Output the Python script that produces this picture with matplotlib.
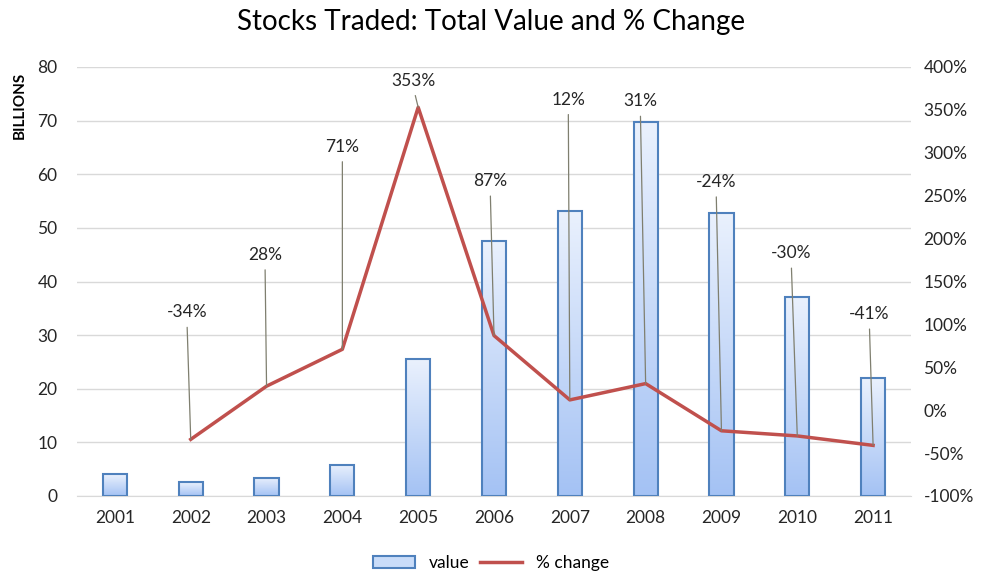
import numpy as np
import matplotlib.pyplot as plt
from matplotlib.lines import Line2D
from matplotlib.patches import Patch
from matplotlib.colors import LinearSegmentedColormap

years = ['2001', '2002', '2003', '2004', '2005', '2006', '2007', '2008', '2009', '2010', '2011']
value = [4.1, 2.6, 3.4, 5.8, 25.5, 47.6, 53.2, 69.8, 52.8, 37.1, 22.0]
pct_change = [None, -34, 28, 71, 353, 87, 12, 31, -24, -30, -41]

# where the data labels sit (category offset, % on right axis)
label_dx = [0, -0.05, -0.02, 0.0, -0.06, -0.05, -0.02, -0.07, -0.07, -0.08, -0.05]
label_y = [0, 114, 181, 307, 384, 267, 362, 360, 266, 183, 112]

plt.rcParams['font.family'] = ['Lato', 'DejaVu Sans']
tick_color = '#262626'
fs = 12.5

fig = plt.figure(figsize=(9.82, 5.75), dpi=100)
ax = fig.add_axes([77/982, 1-496/575, (911-77)/982, (496-67)/575])
x = np.arange(len(years))

# gradient bars
grad = np.linspace(0, 1, 256).reshape(-1, 1)
cmap = LinearSegmentedColormap.from_list('bar', ['#a4c2f4', '#eaf1fd'])
bars = ax.bar(x, value, width=0.32, facecolor='none', edgecolor='#4f81bd', linewidth=1.5, zorder=3)
for b in bars:
    bx, by = b.get_x(), b.get_y()
    w, h = b.get_width(), b.get_height()
    im = ax.imshow(grad, extent=[bx, bx + w, by, by + h], origin='lower', cmap=cmap,
                   aspect='auto', zorder=2)
    im.set_clip_path(b)

ax.set_xlim(-0.5, len(years) - 0.5)
ax.set_ylim(0, 80)
ax.set_yticks(range(0, 81, 10))
ax.set_xticks(x)
ax.set_xticklabels(years)
ax.grid(axis='y', color='#d9d9d9', linewidth=1, zorder=0)
ax.set_axisbelow(True)
for s in ['top', 'left', 'right']:
    ax.spines[s].set_visible(False)
ax.spines['bottom'].set_color('#d9d9d9')
ax.tick_params(length=0, labelsize=fs, colors=tick_color, pad=10)
ax.tick_params(axis='y', pad=14)

ax2 = ax.twinx()
ax2.set_ylim(-100, 400)
ax2.set_yticks(range(-100, 401, 50))
ax2.set_yticklabels([f'{v}%' for v in range(-100, 401, 50)])
for s in ['top', 'left', 'right', 'bottom']:
    ax2.spines[s].set_visible(False)
ax2.tick_params(length=0, labelsize=fs, colors=tick_color, pad=9)

ax2.plot(x[1:], pct_change[1:], color='#c0504d', linewidth=2.5, zorder=4)

for i in range(1, len(years)):
    ax2.annotate(f'{pct_change[i]}%', xy=(x[i], pct_change[i]),
                 xytext=(x[i] + label_dx[i], label_y[i]), textcoords='data',
                 ha='center', va='center', fontsize=fs, color=tick_color,
                 arrowprops=dict(arrowstyle='-', color='#7f7f6f', linewidth=0.9,
                                 shrinkA=3, shrinkB=0, relpos=(0.5, 0)),
                 zorder=5)

fig.text(0.5, 1-22/575, 'Stocks Traded: Total Value and % Change', ha='center', va='center',
         fontsize=20, color='black')
fig.text(20/982, 1-72/575, 'BILLIONS', rotation=90, ha='center', va='top',
         fontsize=11, fontweight='bold', color='black')

handles = [Patch(facecolor='#c9dcf9', edgecolor='#4f81bd', linewidth=1.5),
           Line2D([0], [0], color='#c0504d', linewidth=2.5)]
fig.legend(handles, ['value', '% change'], loc='center', bbox_to_anchor=(0.5, 1-563/575),
           ncol=2, frameon=False, fontsize=fs, handlelength=2.4, columnspacing=0.6)

fig.savefig('out.png', dpi=100)
